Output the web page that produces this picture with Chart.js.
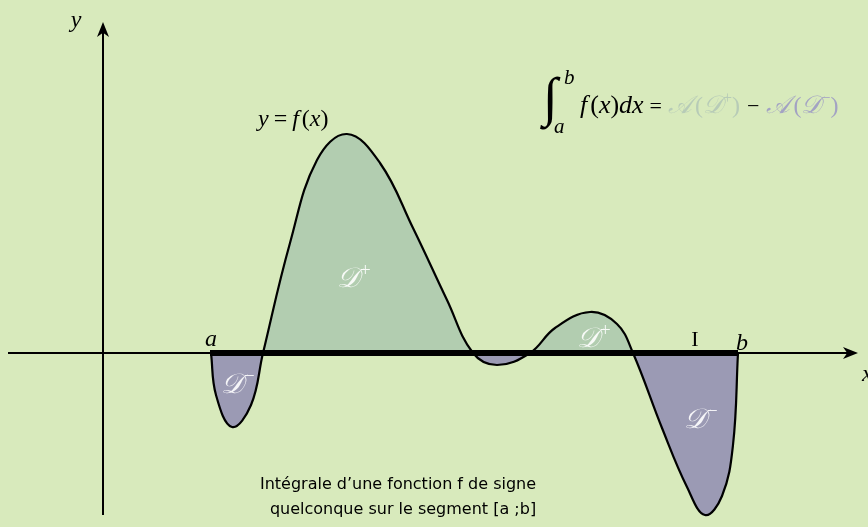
<!DOCTYPE html>
<html>
<head>
<meta charset="utf-8">
<script src="https://cdn.jsdelivr.net/npm/chart.js@4"></script>
<style>
  html, body { margin: 0; padding: 0; background: #d8eabc; }
  #wrap { width: 868px; height: 527px; position: relative; }
</style>
</head>
<body>
<div id="wrap"><canvas id="integrale"></canvas></div>
<script>
// courbe y = f(x) (unites du repere)
const curveX = [2.16, 2.26, 2.58, 2.96, 3.2, 3.74, 4.28, 4.88, 5.54, 6.2, 6.88, 7.4,
                7.88, 8.54, 9.04, 9.74, 10.28, 10.6, 11.18, 11.68, 12.04, 12.38, 12.6, 12.7];
const curveY = [0, -0.84, -1.48, -1.04, 0, 2.2, 3.86, 4.38, 3.8, 2.5, 1.06, 0,
                -0.24, 0, 0.5, 0.82, 0.58, 0, -1.5, -2.68, -3.24, -2.86, -1.84, 0];

// segment [a ; b]
const segmentX = [2.14, 12.7];
const boundLabels = ["a", "b"];

// etiquettes des domaines : [x, y, signe]
const domainLabels = [
  [2.64, -0.8, "\u2212"],
  [4.96, 1.32, "+"],
  [9.76, 0.12, "+"],
  [11.9, -1.5, "\u2212"]
];

const GREEN = "#b2cdb0";
const PURPLE = "#9b9ab4";
const SERIF = '"Liberation Serif", "DejaVu Serif", serif';
const SCRIPT = '"DejaVu Serif", "Liberation Serif", serif';

/* =========================
   FLECHES + TEXTES
========================= */
function arrowHead(ctx, tx, ty, dir) {
    // dir : "right" ou "up"
    const L = 15, W = 6;
    ctx.save();
    ctx.translate(tx, ty);
    if (dir === "up") ctx.rotate(-Math.PI / 2);
    ctx.beginPath();
    ctx.moveTo(0, 0);
    ctx.lineTo(-L, -W);
    ctx.lineTo(-L * 0.72, 0);
    ctx.lineTo(-L, W);
    ctx.closePath();
    ctx.fillStyle = "#000";
    ctx.fill();
    ctx.restore();
}

function drawRun(ctx, x, y, parts) {
    parts.forEach(p => {
        ctx.font = p.font;
        ctx.fillStyle = p.color || "#000";
        ctx.fillText(p.text, x, y + (p.dy || 0));
        x += ctx.measureText(p.text).width + (p.gap || 0);
    });
    return x;
}

const decor = {
    id: "decor",
    afterDatasetsDraw(chart) {
        const ctx = chart.ctx;
        const sx = chart.scales.x, sy = chart.scales.y;
        const X = v => sx.getPixelForValue(v);
        const Y = v => sy.getPixelForValue(v);

        arrowHead(ctx, X(15.1), Y(0), "right");
        arrowHead(ctx, X(0), Y(6.62), "up");

        ctx.textBaseline = "alphabetic";
        ctx.textAlign = "center";
        ctx.fillStyle = "#000";

        ctx.font = "italic 24px " + SERIF;
        ctx.fillText("y", 76, 27);
        ctx.textAlign = "left";
        ctx.fillText("x", 862, 381);
        ctx.textAlign = "center";

        ctx.fillText(boundLabels[0], X(segmentX[0]) + 1, Y(0) - 7);
        ctx.fillText(boundLabels[1], X(segmentX[1]) + 4, Y(0) - 3);
        ctx.font = "22px " + SERIF;
        ctx.fillText("I", 695, 346);

        // y = f(x)
        ctx.textAlign = "left";
        drawRun(ctx, 258, 126, [
            { text: "y", font: "italic 24px " + SERIF, gap: 5 },
            { text: "=", font: "24px " + SERIF, gap: 5 },
            { text: "f", font: "italic 24px " + SERIF, gap: 3 },
            { text: "(", font: "24px " + SERIF },
            { text: "x", font: "italic 24px " + SERIF },
            { text: ")", font: "24px " + SERIF }
        ]);

        // formule
        ctx.font = "54px " + SERIF;
        ctx.fillText("\u222B", 543, 115);
        ctx.font = "italic 21px " + SERIF;
        ctx.fillText("b", 564, 84);
        ctx.fillText("a", 554, 133);
        const gA = "#b7cbb7", gB = "#a3a3c3";
        drawRun(ctx, 580, 113, [
            { text: "f", font: "italic 26px " + SERIF, gap: 3 },
            { text: "(", font: "26px " + SERIF },
            { text: "x", font: "italic 26px " + SERIF },
            { text: ")", font: "26px " + SERIF },
            { text: "dx", font: "italic 26px " + SERIF, gap: 6 },
            { text: "=", font: "22px " + SERIF, gap: 6 },
            { text: "\uD835\uDC9C", font: "italic 25px " + SCRIPT, color: gA, gap: 3 },
            { text: "(", font: "24px " + SERIF, color: gA },
            { text: "\uD835\uDC9F", font: "italic 25px " + SCRIPT, color: gA },
            { text: "+", font: "16px " + SERIF, color: gA, dy: -10 },
            { text: ")", font: "24px " + SERIF, color: gA, gap: 7 },
            { text: "\u2212", font: "22px " + SERIF, gap: 7 },
            { text: "\uD835\uDC9C", font: "italic 25px " + SCRIPT, color: gB, gap: 3 },
            { text: "(", font: "24px " + SERIF, color: gB },
            { text: "\uD835\uDC9F", font: "italic 25px " + SCRIPT, color: gB },
            { text: "\u2212", font: "16px " + SERIF, color: gB, dy: -10 },
            { text: ")", font: "24px " + SERIF, color: gB }
        ]);

        // D+ / D-
        domainLabels.forEach(([vx, vy, s]) => {
            drawRun(ctx, X(vx) - 14, Y(vy), [
                { text: "\uD835\uDC9F", font: "italic 28px " + SCRIPT, color: "rgba(255,255,255,0.9)", gap: 1 },
                { text: s, font: "19px " + SERIF, color: "rgba(255,255,255,0.9)", dy: -11 }
            ]);
        });

        // legende du bas
        ctx.textAlign = "center";
        ctx.fillStyle = "#000";
        ctx.font = '16px "DejaVu Sans", sans-serif';
        ctx.fillText("Int\u00E9grale d\u2019une fonction f de signe", 398, 489);
        ctx.fillText("quelconque sur le segment [a ;b]", 403, 514);
    }
};

/* =========================
   GRAPHIQUE
========================= */
const ctx = document.getElementById("integrale").getContext("2d");

new Chart(ctx, {
    type: "line",
    data: {
        datasets: [
            {
                label: "axe x",
                data: [{ x: -1.9, y: 0 }, { x: 14.9, y: 0 }],
                borderColor: "#000",
                borderWidth: 2,
                pointRadius: 0,
                fill: false,
                order: 4
            },
            {
                label: "axe y",
                data: [{ x: 0, y: -3.24 }, { x: 0, y: 6.5 }],
                borderColor: "#000",
                borderWidth: 2,
                pointRadius: 0,
                fill: false,
                order: 4
            },
            {
                label: "f",
                data: curveX.map((x, i) => ({ x, y: curveY[i] })),
                tension: 0.4,
                borderColor: "#000",
                borderWidth: 2.2,
                pointRadius: 0,
                fill: { target: "origin", above: GREEN, below: PURPLE },
                order: 2
            },
            {
                label: "[a;b]",
                data: segmentX.map(x => ({ x, y: 0 })),
                borderColor: "#000",
                borderWidth: 6,
                borderCapStyle: "butt",
                pointRadius: 0,
                fill: false,
                order: 1
            }
        ]
    },
    options: {
        responsive: true,
        maintainAspectRatio: false,
        animation: false,
        layout: { padding: 0 },
        plugins: {
            legend: { display: false },
            tooltip: { enabled: false },
            filler: { propagate: false }
        },
        scales: {
            x: { type: "linear", display: false, min: -2.06, max: 15.3 },
            y: { type: "linear", display: false, min: -3.48, max: 7.06 }
        }
    },
    plugins: [decor]
});
</script>
</body>
</html>
